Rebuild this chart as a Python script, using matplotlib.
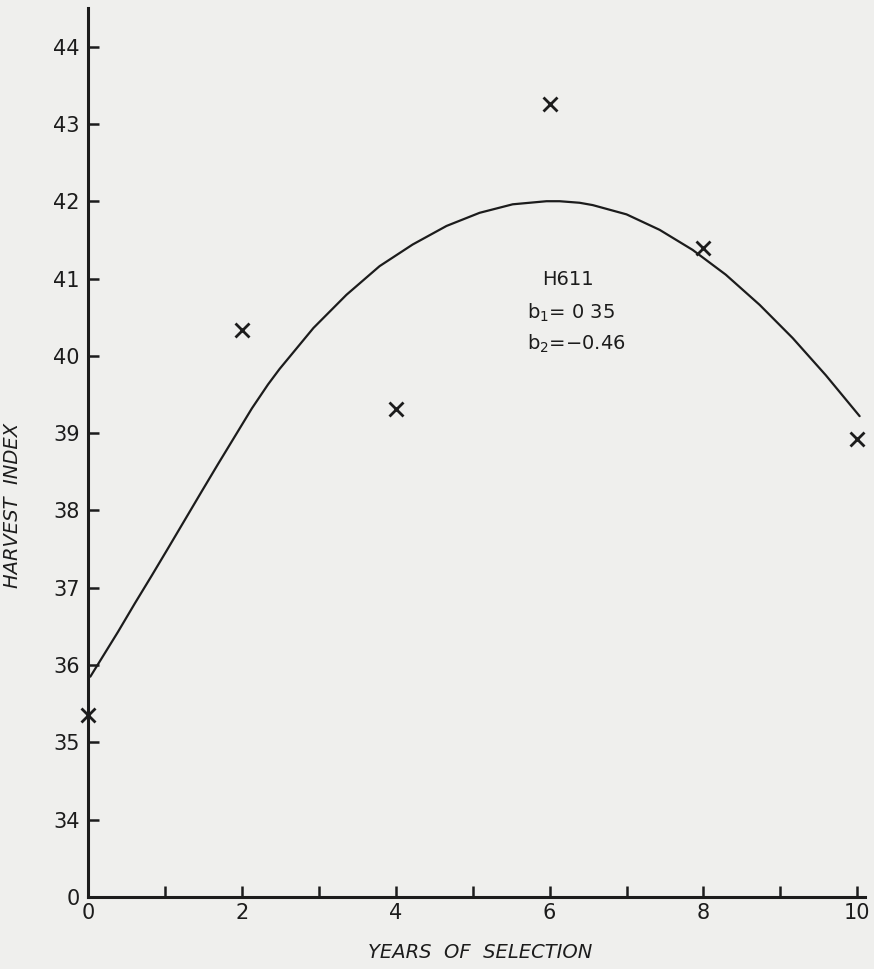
import numpy as np
import matplotlib.pyplot as plt

# observed harvest index (X marks)
years = [0, 2, 4, 6, 8, 10]
harvest_index = [35.35, 40.34, 39.31, 43.26, 41.40, 38.93]

# fitted curve
curve_years = [0.03, 0.39, 0.61, 0.83, 1.04, 1.26, 1.48, 1.69, 1.91, 2.13, 2.34,
               2.49, 2.93, 3.36, 3.79, 4.22, 4.66, 5.09, 5.52, 5.96, 6.13,
               6.39, 6.56, 7.0, 7.43, 7.86, 8.29, 8.73, 9.16, 9.59, 10.03]
curve_values = [35.85, 36.43, 36.80, 37.16, 37.51, 37.88, 38.25, 38.60, 38.96, 39.32, 39.63,
                39.83, 40.36, 40.79, 41.16, 41.44, 41.68, 41.85, 41.96, 42.0, 42.0,
                41.98, 41.95, 41.83, 41.63, 41.37, 41.05, 40.66, 40.23, 39.75, 39.22]

y_ticks = [34, 35, 36, 37, 38, 39, 40, 41, 42, 43, 44]
x_ticks = [0, 2, 4, 6, 8, 10]

ink = '#1c1c1c'
paper = '#efefed'

fig = plt.figure(figsize=(8.74, 9.69), dpi=100)
fig.patch.set_facecolor(paper)
ax = fig.add_axes([0.1007, 0.0743, 0.889, 0.9175])
ax.set_facecolor(paper)

# axis break: the "0" sits one unit below 34
zero_pos = 33
ax.set_xlim(0, 10.1)
ax.set_ylim(zero_pos, 44.5)

ax.plot(curve_years, curve_values, color=ink, lw=1.6, solid_capstyle='round',
        solid_joinstyle='round')
ax.plot(years, harvest_index, linestyle='none', marker='x', ms=10, mew=2.0,
        color=ink, clip_on=False, zorder=3)

for side in ['top', 'right']:
    ax.spines[side].set_visible(False)
for side in ['left', 'bottom']:
    ax.spines[side].set_linewidth(2.2)
    ax.spines[side].set_color(ink)

ax.set_yticks([zero_pos] + y_ticks)
ax.set_yticklabels(['0'] + [str(v) for v in y_ticks])
ax.set_xticks(x_ticks)
ax.set_xticklabels([str(v) for v in x_ticks])
ax.set_xticks([1, 3, 5, 7, 9], minor=True)
ax.tick_params(axis='both', which='both', direction='in', length=8, width=1.8,
               color=ink, labelcolor=ink, labelsize=15)
ax.tick_params(axis='y', pad=6)
ax.tick_params(axis='x', pad=4)

ax.set_ylabel('HARVEST  INDEX', fontsize=14, style='italic', color=ink)
ax.yaxis.set_label_coords(-0.085, 0.44)
ax.set_xlabel('YEARS  OF  SELECTION', fontsize=14, style='italic', color=ink)
ax.xaxis.set_label_coords(0.505, -0.052)

ax.text(5.9, 40.99, 'H611', fontsize=14, color=ink, va='center', ha='left')
ax.text(5.70, 40.55, 'b$_1$= 0 35', fontsize=14, color=ink, va='center', ha='left')
ax.text(5.70, 40.16, 'b$_2$=\u22120.46', fontsize=14, color=ink, va='center', ha='left')

fig.savefig('out.png', dpi=100, facecolor=paper)
